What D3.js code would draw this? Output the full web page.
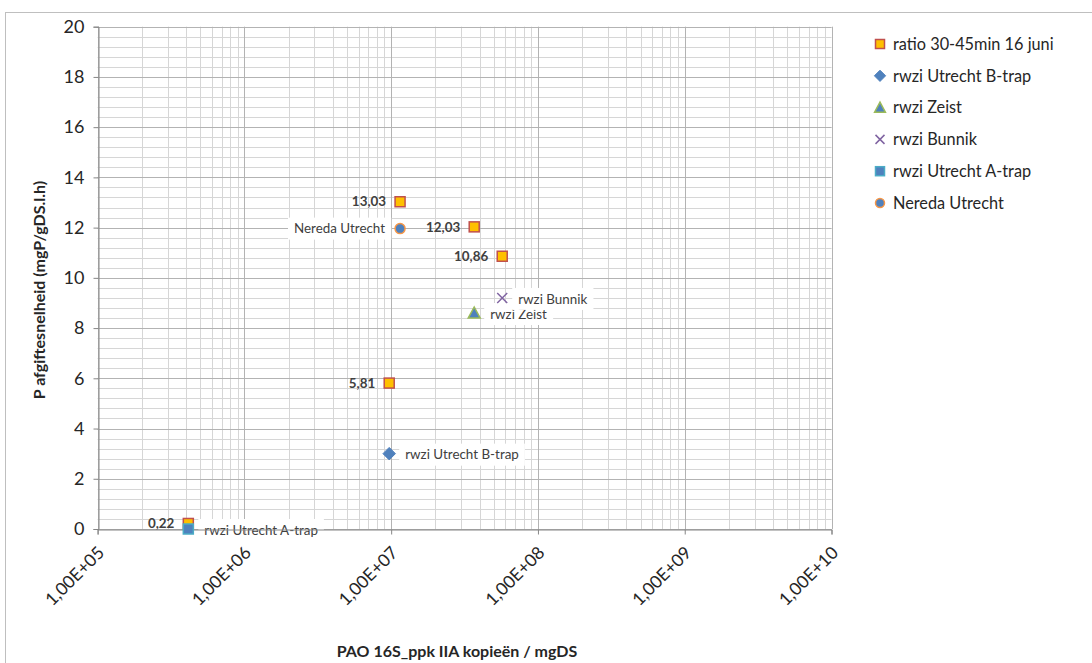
<!DOCTYPE html>
<html>
<head>
<meta charset="utf-8">
<script src="https://cdn.jsdelivr.net/npm/d3@7/dist/d3.min.js"></script>
<style>
  html, body { margin: 0; padding: 0; background: #fff; }
  svg { display: block; font-family: Lato, "Open Sans", sans-serif; }
</style>
</head>
<body>
<svg id="chart" width="1092" height="663"></svg>
<script>
// P release rate vs PAO 16S_ppk IIA copies per mgDS
const ratioX = [1.15e7, 3.68e7, 5.71e7, 9.7e6, 4.15e5];
const ratioY = [13.03, 12.03, 10.86, 5.81, 0.22];
const ratioLabels = ["13,03", "12,03", "10,86", "5,81", "0,22"];

const siteNames = ["rwzi Utrecht B-trap", "rwzi Zeist", "rwzi Bunnik", "rwzi Utrecht A-trap", "Nereda Utrecht"];
const siteX = [9.7e6, 3.68e7, 5.71e7, 4.15e5, 1.15e7];
const siteY = [3.0, 8.6, 9.2, 0.0, 11.96];

const legendNames = ["ratio 30-45min 16 juni", "rwzi Utrecht B-trap", "rwzi Zeist", "rwzi Bunnik", "rwzi Utrecht A-trap", "Nereda Utrecht"];

const xTickValues = [1e5, 1e6, 1e7, 1e8, 1e9, 1e10];
const xTickLabels = ["1,00E+05", "1,00E+06", "1,00E+07", "1,00E+08", "1,00E+09", "1,00E+10"];
const yTickValues = [0, 2, 4, 6, 8, 10, 12, 14, 16, 18, 20];

const xTitle = "PAO 16S_ppk IIA kopieën / mgDS";
const yTitle = "P afgiftesnelheid (mgP/gDS.l.h)";

// marker styles per series
const styles = {
  "ratio 30-45min 16 juni": { shape: "square", fill: "#FFC000", stroke: "#C0504D" },
  "rwzi Utrecht B-trap":    { shape: "diamond", fill: "#4F81BD", stroke: "#4F81BD" },
  "rwzi Zeist":             { shape: "triangle", fill: "#4F81BD", stroke: "#9BBB59" },
  "rwzi Bunnik":            { shape: "cross", fill: "none", stroke: "#8064A2" },
  "rwzi Utrecht A-trap":    { shape: "square", fill: "#4F81BD", stroke: "#4BACC6" },
  "Nereda Utrecht":         { shape: "circle", fill: "#4F81BD", stroke: "#F79646" }
};

const svg = d3.select("#chart");
const plotLeft = 97.6, plotRight = 831.5, plotTop = 26.7, plotBottom = 529;

const x = d3.scaleLog().domain([1e5, 1e10]).range([plotLeft, plotRight]);
const y = d3.scaleLinear().domain([0, 20]).range([plotBottom, plotTop]);

// outer frame
svg.append("rect").attr("x", 5.5).attr("y", 12.5).attr("width", 1200).attr("height", 700)
  .attr("fill", "none").attr("stroke", "#bfbfbf").attr("stroke-width", 1);

const grid = svg.append("g");
// minor horizontal gridlines every 0.4
const yMinor = d3.range(0, 20.001, 0.4);
grid.selectAll("line.hm").data(yMinor).join("line")
  .attr("x1", plotLeft).attr("x2", plotRight)
  .attr("y1", d => Math.round(y(d)) + 0.5).attr("y2", d => Math.round(y(d)) + 0.5)
  .attr("stroke", "#d6d6d6").attr("stroke-width", 1);
// minor vertical gridlines 2..9 per decade
const xMinor = [];
for (let e = 5; e < 10; e++) for (let m = 2; m <= 9; m++) xMinor.push(m * Math.pow(10, e));
grid.selectAll("line.vm").data(xMinor).join("line")
  .attr("y1", plotTop).attr("y2", plotBottom)
  .attr("x1", d => Math.round(x(d)) + 0.5).attr("x2", d => Math.round(x(d)) + 0.5)
  .attr("stroke", "#d6d6d6").attr("stroke-width", 1);
// major gridlines
grid.selectAll("line.hM").data(yTickValues).join("line")
  .attr("x1", plotLeft).attr("x2", plotRight)
  .attr("y1", d => Math.round(y(d)) + 0.5).attr("y2", d => Math.round(y(d)) + 0.5)
  .attr("stroke", "#b3b3b3").attr("stroke-width", 1);
grid.selectAll("line.vM").data(xTickValues).join("line")
  .attr("y1", plotTop).attr("y2", plotBottom)
  .attr("x1", d => Math.round(x(d)) + 0.5).attr("x2", d => Math.round(x(d)) + 0.5)
  .attr("stroke", "#b3b3b3").attr("stroke-width", 1);

// y axis
const yAxis = d3.axisLeft(y).tickValues(yTickValues).tickSize(5).tickPadding(9).tickFormat(d3.format("d"));
const gy = svg.append("g").attr("transform", `translate(${Math.round(plotLeft) + 0.5},0)`).call(yAxis);
gy.select(".domain").attr("stroke", "#868686");
gy.selectAll(".tick line").attr("stroke", "#868686");
gy.selectAll(".tick text").attr("font-size", 18).attr("fill", "#262626")
  .attr("font-family", "Lato, sans-serif");

// x axis
const xAxis = d3.axisBottom(x).tickValues(xTickValues).tickSize(5).tickFormat((d, i) => xTickLabels[i]);
const gx = svg.append("g").attr("transform", `translate(0,${Math.round(plotBottom) + 0.5})`).call(xAxis);
gx.select(".domain").attr("stroke", "#868686");
gx.selectAll(".tick line").attr("stroke", "#868686");
gx.selectAll(".tick text")
  .attr("font-size", 17.5).attr("fill", "#262626").attr("font-family", "Lato, sans-serif")
  .attr("text-anchor", "end").attr("y", 0).attr("dy", "0.35em")
  .attr("transform", "translate(3,20) rotate(-45)");

// axis titles
svg.append("text").attr("x", 457).attr("y", 657).attr("text-anchor", "middle")
  .attr("font-size", 16).attr("font-weight", "bold").attr("fill", "#262626").text(xTitle);
svg.append("text").attr("transform", "translate(45,290) rotate(-90)").attr("text-anchor", "middle")
  .attr("font-size", 16).attr("font-weight", "bold").attr("fill", "#262626").text(yTitle);

// marker drawing helper
function drawMarker(g, name, cx, cy, size) {
  const s = styles[name];
  const h = size / 2;
  if (s.shape === "square") {
    g.append("rect").attr("x", cx - h).attr("y", cy - h).attr("width", size).attr("height", size)
      .attr("fill", s.fill).attr("stroke", s.stroke).attr("stroke-width", 1.5);
  } else if (s.shape === "diamond") {
    const r = h * 1.25;
    g.append("path").attr("d", `M${cx},${cy - r}L${cx + r},${cy}L${cx},${cy + r}L${cx - r},${cy}Z`)
      .attr("fill", s.fill).attr("stroke", s.stroke).attr("stroke-width", 1);
  } else if (s.shape === "triangle") {
    const r = h * 1.2;
    g.append("path").attr("d", `M${cx},${cy - r}L${cx + r},${cy + r * 0.85}L${cx - r},${cy + r * 0.85}Z`)
      .attr("fill", s.fill).attr("stroke", s.stroke).attr("stroke-width", 1.5);
  } else if (s.shape === "cross") {
    g.append("path").attr("d", `M${cx - h},${cy - h}L${cx + h},${cy + h}M${cx - h},${cy + h}L${cx + h},${cy - h}`)
      .attr("stroke", s.stroke).attr("stroke-width", 1.5).attr("fill", "none");
  } else if (s.shape === "circle") {
    g.append("circle").attr("cx", cx).attr("cy", cy).attr("r", h)
      .attr("fill", s.fill).attr("stroke", s.stroke).attr("stroke-width", 1.5);
  }
}

// label with optional white background
function drawLabel(g, text, px, py, anchor, bold, bg) {
  const t = g.append("text").attr("x", px).attr("y", py).attr("dy", "0.35em")
    .attr("text-anchor", anchor).attr("font-size", 13.4)
    .attr("font-weight", bold ? "bold" : "normal").attr("fill", "#404040").text(text);
  if (bg) {
    const b = t.node().getBBox();
    g.insert("rect", () => t.node())
      .attr("x", b.x - 6).attr("y", py - 11).attr("width", b.width + 12).attr("height", 22)
      .attr("fill", "#fff");
  }
}

const marks = svg.append("g");
const labels = svg.append("g");

// ratio series
ratioX.forEach((v, i) => {
  const cx = x(v), cy = y(ratioY[i]);
  drawMarker(marks, "ratio 30-45min 16 juni", cx, cy, 10);
  drawLabel(labels, ratioLabels[i], cx - 14, cy, "end", true, false);
});

// site series
siteNames.forEach((name, i) => {
  const cx = x(siteX[i]), cy = y(siteY[i]);
  drawMarker(marks, name, cx, cy, 10);
  if (name === "Nereda Utrecht") {
    drawLabel(labels, name, cx - 15, cy, "end", false, true);
  } else {
    drawLabel(labels, name, cx + 16, cy + 1, "start", false, true);
  }
});
// labels sit under the markers so boxes never hide points
labels.lower();
grid.lower();

// legend
const lg = svg.append("g");
legendNames.forEach((name, i) => {
  const ly = 44 + i * 31.8;
  drawMarker(lg, name, 880, ly, 9);
  lg.append("text").attr("x", 893).attr("y", ly).attr("dy", "0.35em")
    .attr("font-size", 16.3).attr("fill", "#262626").text(name);
});
</script>
</body>
</html>
